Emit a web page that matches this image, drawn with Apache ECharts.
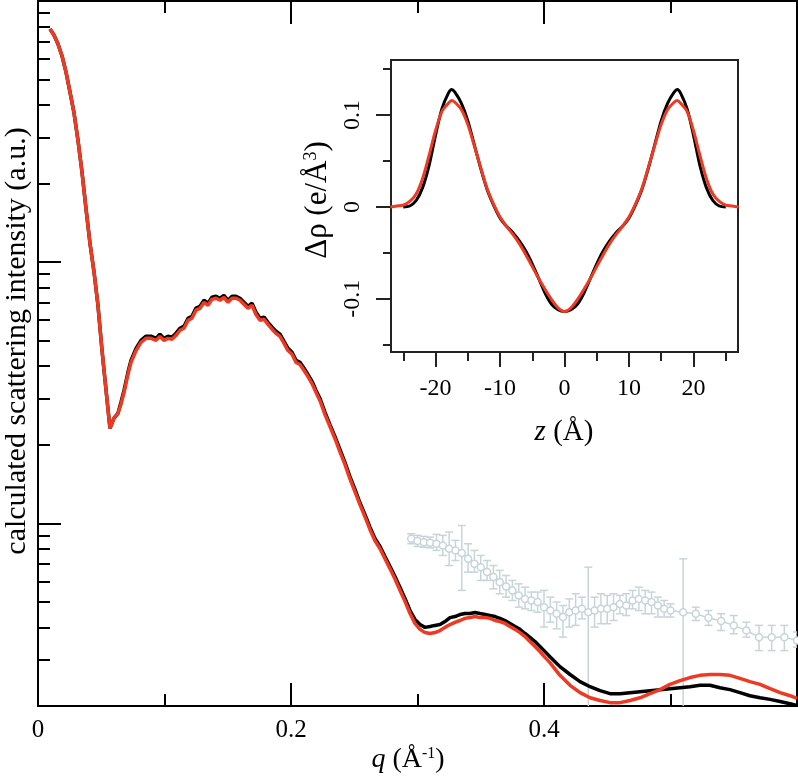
<!DOCTYPE html>
<html>
<head>
<meta charset="utf-8">
<script src="https://cdn.jsdelivr.net/npm/echarts@6/dist/echarts.min.js"></script>
<style>html,body{margin:0;padding:0;background:#fff}#c{width:798px;height:781px}</style>
</head>
<body>
<div id="c"></div>
<script>
// ---------- main panel: calculated scattering curves ----------
const qMain = [
  0.0095,0.0126,0.0158,0.0190,0.0221,0.0253,0.0285,0.0316,0.0348,0.0379,0.0411,0.0443,0.0474,0.0506,0.0538,0.0569,0.0601,0.0632,
  0.0656,0.0680,0.0711,0.0735,0.0775,0.0814,0.0854,0.0893,0.0933,0.0964,0.0996,0.1028,0.1059,0.1091,0.1123,0.1154,0.1186,0.1217,
  0.1249,0.1281,0.1312,0.1344,0.1375,0.1407,0.1439,0.1470,0.1502,0.1534,0.1565,0.1597,0.1628,0.1660,0.1692,0.1723,0.1755,0.1787,
  0.1818,0.1850,0.1881,0.1913,0.1945,0.1976,0.2008,0.2040,
  0.2071,0.2103,0.2134,0.2166,0.2198,0.2229,0.2269,0.2308,0.2348,0.2387,0.2427,0.2466,0.2506,0.2545,0.2585,0.2625,0.2664,0.2704,
  0.2743,0.2783,0.2822,0.2862,0.2901,0.2941,0.2980,0.3020,0.3059,0.3099,0.3138,0.3178,0.3217,0.3257,0.3296,0.3336,0.3375,0.3415,
  0.3455,0.3494,0.3534,0.3573,0.3613,0.3652,0.3692,0.3731,0.3771,0.3810,0.3850,0.3889,0.3929,0.3968,0.4008,0.4047,
  0.4126,0.4206,0.4285,0.4364,0.4443,0.4522,0.4601,0.4680,0.4759,0.4838,0.4917,0.4996,0.5075,0.5154,0.5233,0.5312,0.5391,0.5470,
  0.5549,0.5628,0.5708,0.5787,0.5866,0.5945,0.6000
];
const intensityBlack = [
  78.1,74.1,68.4,61.6,53.5,44.8,37.2,29.3,22.1,16.1,11.8,9.16,6.84,4.60,3.23,2.31,2.53,2.64,
  2.91,3.23,3.79,4.21,4.68,5.02,5.21,5.21,5.11,5.30,5.11,5.21,5.16,5.35,5.59,5.69,6.10,6.21,
  6.67,6.78,7.15,6.97,7.34,7.41,7.28,7.47,7.15,7.41,7.41,7.28,7.03,6.78,6.97,6.43,6.10,6.16,
  5.89,5.64,5.44,5.30,4.98,4.68,4.52,4.21,
  4.14,3.93,3.72,3.50,3.23,3.01,2.66,2.39,2.15,1.92,1.71,1.51,1.35,1.20,1.08,0.965,0.876,0.816,
  0.747,0.684,0.626,0.568,0.516,0.464,0.429,0.410,0.400,0.403,0.407,0.410,0.421,0.436,0.440,0.448,0.452,0.452,
  0.456,0.452,0.448,0.444,0.440,0.433,0.425,0.414,0.403,0.393,0.379,0.366,0.353,0.338,0.323,0.309,
  0.283,0.264,0.248,0.237,0.229,0.223,0.223,0.225,0.227,0.229,0.231,0.233,0.235,0.237,0.240,0.240,0.235,0.231,
  0.225,0.219,0.215,0.212,0.208,0.204,0.201
];
const intensityRed = [
  78.1,74.1,68.4,61.6,53.5,44.8,37.2,29.3,22.1,16.1,11.8,9.16,6.84,4.60,3.23,2.31,2.53,2.64,
  2.86,3.17,3.72,4.13,4.59,4.93,5.11,5.11,5.02,5.20,5.02,5.11,5.07,5.25,5.49,5.59,5.99,6.10,
  6.55,6.66,7.02,6.84,7.21,7.28,7.15,7.33,7.02,7.28,7.28,7.15,6.90,6.66,6.84,6.31,5.99,6.05,
  5.78,5.54,5.34,5.20,4.89,4.59,4.44,4.13,
  4.06,3.85,3.65,3.43,3.17,2.95,2.61,2.35,2.11,1.88,1.68,1.48,1.32,1.18,1.06,0.946,0.858,0.800,
  0.732,0.670,0.613,0.554,0.503,0.452,0.414,0.393,0.382,0.379,0.382,0.389,0.400,0.410,0.418,0.425,0.433,0.436,
  0.440,0.436,0.436,0.433,0.425,0.421,0.414,0.403,0.393,0.382,0.369,0.353,0.338,0.323,0.307,0.293,
  0.262,0.240,0.225,0.215,0.210,0.206,0.206,0.210,0.215,0.223,0.231,0.242,0.250,0.257,0.262,0.264,0.264,0.262,
  0.255,0.248,0.242,0.233,0.225,0.219,0.214
];

// ---------- main panel: experimental points with error bars ----------
const qExp = [
  0.295,0.300,0.305,0.310,0.315,0.320,0.325,0.330,0.335,0.340,0.345,0.350,0.355,0.360,0.365,0.370,0.375,0.380,0.385,0.390,0.395,
  0.400,0.405,0.410,0.415,0.420,0.425,0.430,0.435,0.440,0.445,0.450,0.455,0.460,0.465,0.470,0.475,0.480,0.485,0.490,0.495,0.500,
  0.51,0.52,0.53,0.54,0.55,0.56,0.57,0.58,0.59,0.60
];
const intensityExp = [
  0.874,0.856,0.848,0.843,0.836,0.823,0.800,0.788,0.770,0.732,0.701,0.680,0.651,0.623,0.596,0.574,0.554,0.530,0.514,0.507,0.500,
  0.478,0.464,0.451,0.438,0.457,0.464,0.471,0.457,0.464,0.471,0.471,0.478,0.492,0.485,0.507,0.514,0.507,0.500,0.485,0.471,0.464,
  0.457,0.451,0.435,0.423,0.407,0.389,0.367,0.367,0.367,0.356
];
const errHigh = [
  0.913,0.900,0.892,0.886,0.908,0.900,0.926,0.861,0.982,0.836,0.788,0.754,0.721,0.690,0.661,0.632,0.605,0.587,0.570,0.546,0.546,
  0.554,0.522,0.500,0.485,0.514,0.538,0.522,0.680,0.522,0.538,0.530,0.538,0.530,0.538,0.554,0.570,0.554,0.546,0.522,0.507,0.492,
  0.732,0.478,0.464,0.451,0.444,0.419,0.407,0.407,0.407,0.384
];
const errLow = [
  0.836,0.816,0.811,0.807,0.788,0.754,0.690,0.721,0.554,0.651,0.651,0.605,0.605,0.562,0.538,0.522,0.507,0.478,0.471,0.464,0.457,
  0.401,0.419,0.395,0.367,0.401,0.407,0.431,0.200,0.401,0.413,0.413,0.425,0.451,0.444,0.471,0.464,0.451,0.451,0.438,0.438,0.438,
  0.200,0.425,0.407,0.389,0.378,0.367,0.326,0.326,0.326,0.336
];

// ---------- inset: electron density profiles ----------
const zInset = [-27,-26,-25,-24,-23,-22,-21,-20,-19,-18,-17.5,-17,-16,-15,-14,-13,-12,-11,-10,-9,-8,-7,-6,-5,-4,-3,-2,-1,0,
  1,2,3,4,5,6,7,8,9,10,11,12,13,14,15,16,17,17.5,18,19,20,21,22,23,24,25,26,27];
const rhoBlack = [null,null,0.000,0.001,0.007,0.021,0.045,0.078,0.107,0.124,0.128,0.125,0.113,0.094,0.068,0.042,0.019,0.002,-0.012,-0.021,-0.028,-0.037,-0.048,-0.062,-0.078,-0.094,-0.106,-0.112,-0.114,
  -0.112,-0.106,-0.094,-0.078,-0.062,-0.048,-0.037,-0.028,-0.021,-0.012,0.002,0.019,0.042,0.068,0.094,0.113,0.125,0.128,0.124,0.107,0.078,0.045,0.021,0.007,0.001,0.000,null,null];
const rhoRed = [0.000,0.001,0.002,0.006,0.014,0.031,0.056,0.083,0.104,0.113,0.116,0.114,0.106,0.090,0.067,0.043,0.020,0.003,-0.011,-0.021,-0.030,-0.040,-0.052,-0.065,-0.078,-0.090,-0.101,-0.110,-0.114,
  -0.110,-0.101,-0.090,-0.078,-0.065,-0.052,-0.040,-0.030,-0.021,-0.011,0.003,0.020,0.043,0.067,0.090,0.106,0.114,0.116,0.113,0.104,0.083,0.056,0.031,0.014,0.006,0.002,0.001,0.000];

// ---------- tick positions ----------
const qMajorTicks = [0, 0.2, 0.4];
const qMinorTicks = [0.1, 0.3, 0.5];
const qTopMajorTicks = [0.2, 0.4];
const iMajorTicks = [1, 10];
const iMinorTicks = [0.2,0.3,0.4,0.5,0.6,0.7,0.8,0.9,2,3,4,5,6,7,8,9,20,30,40,50,60,70,80,90];
const zMajorTicks = [-20, -10, 0, 10, 20];
const zMinorTicks = [-25, -15, -5, 5, 15, 25];
const rhoMajorTicks = [-0.1, 0, 0.1];
const rhoMinorTicks = [-0.15, -0.05, 0.05, 0.15];

const FONT = '"Liberation Serif", "Times New Roman", serif';
const BLACK = '#000000';
const RED = '#ee3a22';
const GREY = '#c8d5d8';

function fmt(v) { return v === 0 ? '0' : String(v); }

function qAxis(pos, ticks, len, showLine, labels) {
  return {
    type: 'value', gridIndex: 0, position: pos, min: 0, max: 0.6,
    axisLine: { show: showLine, onZero: false, lineStyle: { color: BLACK, width: 2 } },
    axisTick: { show: true, inside: true, length: len, customValues: ticks, lineStyle: { color: BLACK, width: 2 } },
    axisLabel: labels ? { show: true, customValues: ticks, margin: 12, color: BLACK, fontFamily: FONT, fontSize: 25, formatter: fmt } : { show: false },
    splitLine: { show: false }
  };
}
function iAxis(ticks, len, showLine) {
  return {
    type: 'log', logBase: 10, gridIndex: 0, position: 'left', min: 0.2, max: 100,
    axisLine: { show: showLine, onZero: false, lineStyle: { color: BLACK, width: 2 } },
    axisTick: { show: true, inside: true, length: len, customValues: ticks, lineStyle: { color: BLACK, width: 2 } },
    axisLabel: { show: false }, splitLine: { show: false }
  };
}
function zAxis(ticks, len, showLine, labels) {
  return {
    type: 'value', gridIndex: 1, position: 'bottom', min: -26.9, max: 26.9,
    axisLine: { show: showLine, onZero: false, lineStyle: { color: '#222', width: 2 } },
    axisTick: { show: true, inside: false, length: len, customValues: ticks, lineStyle: { color: '#222', width: 2 } },
    axisLabel: labels ? { show: true, customValues: ticks, margin: 25, color: BLACK, fontFamily: FONT, fontSize: 24, formatter: fmt } : { show: false },
    splitLine: { show: false }
  };
}
function rhoAxis(ticks, len, showLine, labels) {
  return {
    type: 'value', gridIndex: 1, position: 'left', min: -0.158, max: 0.16,
    axisLine: { show: showLine, onZero: false, lineStyle: { color: '#222', width: 2 } },
    axisTick: { show: true, inside: false, length: len, customValues: ticks, lineStyle: { color: '#222', width: 2 } },
    axisLabel: labels ? { show: true, customValues: ticks, rotate: 90, margin: 26, color: BLACK, fontFamily: FONT, fontSize: 24, formatter: fmt } : { show: false },
    splitLine: { show: false }
  };
}

const chart = echarts.init(document.getElementById('c'), null, { renderer: 'canvas' });

const option = {
  animation: false,
  backgroundColor: '#ffffff',
  grid: [
    { left: 38, top: 1, width: 759, height: 705, show: true, borderColor: BLACK, borderWidth: 2, backgroundColor: 'transparent' },
    { left: 391, top: 60, width: 347, height: 292, show: true, borderColor: '#222', borderWidth: 2, backgroundColor: '#ffffff' }
  ],
  xAxis: [
    qAxis('bottom', qMajorTicks, 23, true, true),
    qAxis('bottom', qMinorTicks, 12, false, false),
    qAxis('top', qTopMajorTicks, 23, false, false),
    qAxis('top', qMinorTicks, 12, false, false),
    zAxis(zMajorTicks, 15, true, true),
    zAxis(zMinorTicks, 9, false, false)
  ],
  yAxis: [
    iAxis(iMajorTicks, 23, true),
    iAxis(iMinorTicks, 12, false),
    rhoAxis(rhoMajorTicks, 15, true, true),
    rhoAxis(rhoMinorTicks, 8, false, false)
  ],
  series: [
    {
      type: 'custom', name: 'error bars', xAxisIndex: 0, yAxisIndex: 0, z: 1, clip: true,
      data: qExp.map((q, i) => [q, errLow[i], errHigh[i]]),
      encode: { x: 0, y: [1, 2] },
      renderItem: function (params, api) {
        const q = api.value(0);
        const lo = api.coord([q, api.value(1)]);
        const hi = api.coord([q, api.value(2)]);
        const hw = 4;
        const st = { stroke: GREY, lineWidth: 1.5, fill: null };
        const kids = [
          { type: 'line', shape: { x1: lo[0], y1: lo[1], x2: hi[0], y2: hi[1] }, style: st },
          { type: 'line', shape: { x1: hi[0] - hw, y1: hi[1], x2: hi[0] + hw, y2: hi[1] }, style: st }
        ];
        if (api.value(1) > 0.2) kids.push({ type: 'line', shape: { x1: lo[0] - hw, y1: lo[1], x2: lo[0] + hw, y2: lo[1] }, style: st });
        return { type: 'group', children: kids };
      }
    },
    {
      type: 'line', name: 'experiment', xAxisIndex: 0, yAxisIndex: 0, z: 2,
      data: qExp.map((q, i) => [q, intensityExp[i]]),
      symbol: 'circle', symbolSize: 7, showSymbol: true,
      itemStyle: { color: '#ffffff', borderColor: GREY, borderWidth: 1.5 },
      lineStyle: { color: GREY, width: 1.5 }
    },
    {
      type: 'line', name: 'model black', xAxisIndex: 0, yAxisIndex: 0, z: 3,
      data: qMain.map((q, i) => [q, intensityBlack[i]]),
      showSymbol: false, symbol: 'none', lineStyle: { color: BLACK, width: 3.5 }
    },
    {
      type: 'line', name: 'model red', xAxisIndex: 0, yAxisIndex: 0, z: 4,
      data: qMain.map((q, i) => [q, intensityRed[i]]),
      showSymbol: false, symbol: 'none', lineStyle: { color: RED, width: 3.5 }
    },
    {
      type: 'line', name: 'rho black', xAxisIndex: 4, yAxisIndex: 2, z: 5, smooth: 0.3,
      data: zInset.map((z, i) => [z, rhoBlack[i]]),
      showSymbol: false, symbol: 'none', connectNulls: false, lineStyle: { color: BLACK, width: 3 }
    },
    {
      type: 'line', name: 'rho red', xAxisIndex: 4, yAxisIndex: 2, z: 6, smooth: 0.3,
      data: zInset.map((z, i) => [z, rhoRed[i]]),
      showSymbol: false, symbol: 'none', lineStyle: { color: RED, width: 3 }
    }
  ],
  graphic: [
    {
      type: 'text', x: 17, y: 341, rotation: Math.PI / 2,
      style: { text: 'calculated scattering intensity (a.u.)', fontFamily: FONT, fontSize: 30, fill: BLACK,
        align: 'center', verticalAlign: 'middle', textAlign: 'center', textVerticalAlign: 'middle' }
    },
    {
      type: 'text', x: 408, y: 760,
      style: { text: '{i|q} (Å{s|-1})', fontFamily: FONT, fontSize: 28, fill: BLACK,
        align: 'center', verticalAlign: 'middle', textAlign: 'center', textVerticalAlign: 'middle',
        rich: { i: { fontStyle: 'italic', fontFamily: FONT, fontSize: 28 }, s: { fontFamily: FONT, fontSize: 16, verticalAlign: 'top' } } }
    },
    {
      type: 'text', x: 564, y: 432,
      style: { text: '{i|z} (Å)', fontFamily: FONT, fontSize: 29, fill: BLACK,
        align: 'center', verticalAlign: 'middle', textAlign: 'center', textVerticalAlign: 'middle',
        rich: { i: { fontStyle: 'italic', fontFamily: FONT, fontSize: 29 } } }
    },
    {
      type: 'text', x: 318, y: 200, rotation: Math.PI / 2,
      style: { text: 'Δρ (e/Å{s|3})', fontFamily: FONT, fontSize: 31, fill: BLACK,
        align: 'center', verticalAlign: 'middle', textAlign: 'center', textVerticalAlign: 'middle',
        rich: { s: { fontFamily: FONT, fontSize: 18, verticalAlign: 'top' } } }
    }
  ]
};
chart.setOption(option);
</script>
</body>
</html>
